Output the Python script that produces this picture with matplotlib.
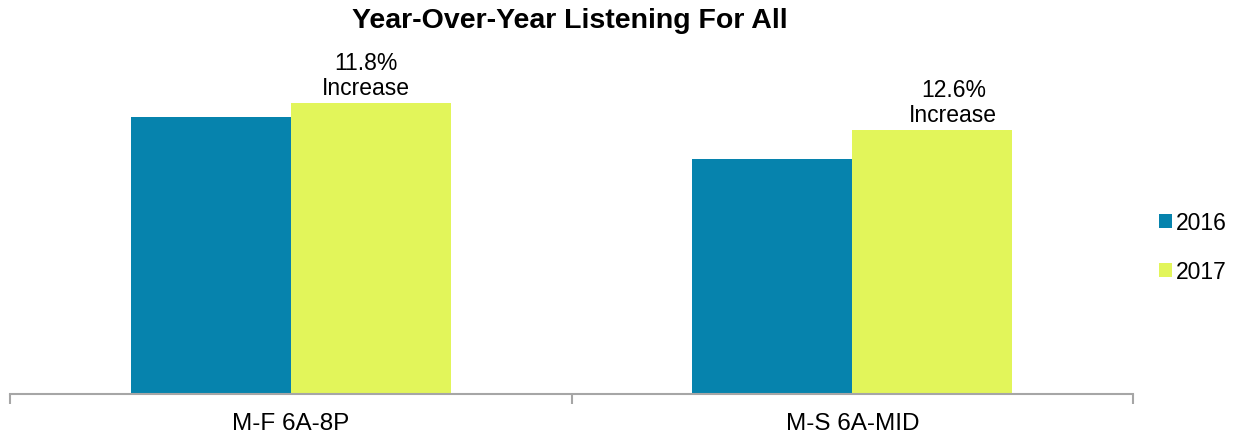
import numpy as np
import matplotlib.pyplot as plt

plt.rcParams['font.family'] = ['Liberation Sans', 'DejaVu Sans']

# data (arbitrary units)
categories = ['M-F 6A-8P', 'M-S 6A-MID']
years = ['2016', '2017']
vals_2016 = [277, 235]
vals_2017 = [291, 264]
notes = ['11.8%\nIncrease', '12.6%\nIncrease']

c2016 = '#0683AD'
c2017 = '#E2F55A'

fig = plt.figure(figsize=(12.37, 4.39), dpi=100)
ax = fig.add_axes([10/1237, 44/439, 1123/1237, 335/439])

x = np.arange(len(categories))
w = 0.285
ax.bar(x - w/2, vals_2016, w, color=c2016, label=years[0])
ax.bar(x + w/2, vals_2017, w, color=c2017, label=years[1])

ax.set_xlim(-0.5, len(categories) - 0.5)
ax.set_ylim(0, 335)

# notes above the 2017 bars
offsets = [-5, 21]
for i, (v, t) in enumerate(zip(vals_2017, notes)):
    ax.annotate(t, xy=(x[i] + w/2, v), xytext=(offsets[i], 4),
                textcoords='offset pixels', ha='center', va='bottom',
                fontsize=16.5, linespacing=1.1)

for s in ['top', 'right', 'left']:
    ax.spines[s].set_visible(False)
ax.spines['bottom'].set_color('#A6A6A6')
ax.spines['bottom'].set_linewidth(1.5)
ax.set_yticks([])

ax.set_xticks(x)
ax.set_xticklabels(categories, fontsize=17.5)
ax.tick_params(axis='x', which='major', length=0, pad=13)
ax.set_xticks([-0.5, 0.5, 1.5], minor=True)
ax.tick_params(axis='x', which='minor', length=7, width=1.5, color='#A6A6A6')

ax.legend(loc='center left', bbox_to_anchor=(1150/1237, 1 - 248/439),
          bbox_transform=fig.transFigure, frameon=False, fontsize=16.5,
          handlelength=0.55, handleheight=0.55, handletextpad=0.2,
          labelspacing=1.15, borderaxespad=0)

fig.suptitle('Year-Over-Year Listening For All', x=570/1237, y=1 - 8/439,
             va='top', fontsize=20.5, fontweight='bold')

fig.savefig('out.png', dpi=100)
